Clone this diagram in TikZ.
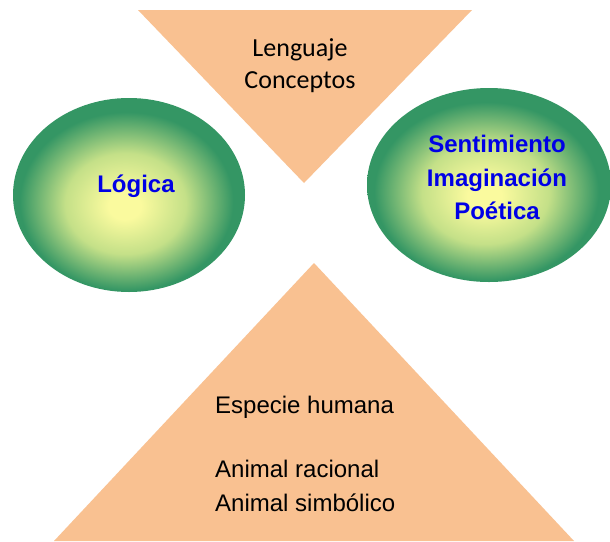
\documentclass[tikz,border=0pt]{standalone}
\usepackage{fontspec}
\setmainfont{Liberation Sans}
\newfontfamily\carlito{Carlito}
\usetikzlibrary{shapes.geometric}

\definecolor{peach}{RGB}{249,193,145}
\definecolor{leafgreen}{RGB}{52,150,100}
\definecolor{midgreen}{RGB}{196,224,136}
\definecolor{paleyellow}{RGB}{250,250,158}
\definecolor{textblue}{RGB}{0,0,230}

\pgfdeclareradialshading{glow}{\pgfpoint{-1bp}{-3bp}}{color(0bp)=(paleyellow); color(3.5bp)=(paleyellow); color(13bp)=(midgreen); color(23bp)=(leafgreen); color(50bp)=(leafgreen)}

\begin{document}
\begin{tikzpicture}[x=1pt,y=-1pt,
	ball/.style={ellipse,shading=glow,inner sep=0pt},
	upper/.style={font=\carlito\fontsize{26}{32}\selectfont,align=center,inner sep=0pt},
	bluetext/.style={font=\bfseries\fontsize{24}{33.5}\selectfont,text=textblue,align=center,inner sep=0pt},
	lower/.style={font=\fontsize{24}{34}\selectfont,align=left,inner sep=0pt}]
	\useasboundingbox (0,0) rectangle (610,541);
	\clip (0,0) rectangle (610,541);
	\fill[white] (0,0) rectangle (610,541);

	% triangles
	\fill[peach] (138,10) -- (472,10) -- (304,183) -- cycle;
	\fill[peach] (314,263) -- (54,541) -- (574,541) -- cycle;

	% ellipses
	\node[ball,minimum width=232pt,minimum height=194pt] (logica) at (129,195) {};
	\node[ball,minimum width=244pt,minimum height=194pt] (sentimiento) at (489,185) {};

	% texts
	\node[upper,anchor=north] (lenguaje) at (300,38) {Lenguaje\\Conceptos};
	\node[bluetext,anchor=base] (logica-txt) at (136,192) {Lógica};
	\node[bluetext,anchor=north] (sentimiento-txt) at (497,135) {Sentimiento\\Imaginación\\Poética};
	\node[lower,anchor=north west] (especie) at (215,396) {Especie humana\\[30pt]Animal racional\\Animal simbólico};
\end{tikzpicture}
\end{document}
